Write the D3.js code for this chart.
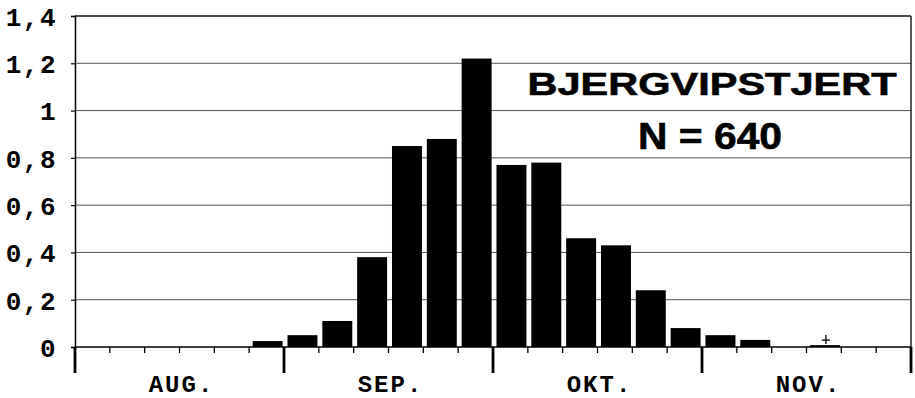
<!DOCTYPE html>
<html>
<head>
<meta charset="utf-8">
<script src="https://cdn.jsdelivr.net/npm/d3@7"></script>
<style>
  html, body { margin: 0; padding: 0; background: #fff; }
  svg { display: block; }
</style>
</head>
<body>
<div id="chart"></div>
<script>
// Pentad slots: six per month, August to November
const months = ["AUG.", "SEP.", "OKT.", "NOV."];
const slotsPerMonth = 6;
// Share of birds per pentad (%), one value per slot
const values = [0, 0, 0, 0, 0, 0.025,
                0.05, 0.11, 0.38, 0.85, 0.88, 1.22,
                0.77, 0.78, 0.46, 0.43, 0.24, 0.08,
                0.05, 0.03, 0, 0.008, 0, 0];
// Slots where the species was seen but in a negligible amount
const traceSlots = [21];
const yTicks = [0, 0.2, 0.4, 0.6, 0.8, 1, 1.2, 1.4];
const yTickLabels = ["0", "0,2", "0,4", "0,6", "0,8", "1", "1,2", "1,4"];
const titleLines = ["BJERGVIPSTJERT", "N = 640"];

const W = 915, H = 398;
const plotLeft = 75, plotRight = 911, plotTop = 16, plotBase = 347;
const monoFont = "Liberation Mono, Courier New, monospace";

const svg = d3.select("#chart").append("svg")
  .attr("width", W).attr("height", H);

const slots = d3.range(months.length * slotsPerMonth);
const x = d3.scaleBand().domain(slots).range([plotLeft, plotRight]).padding(0);
const step = x.step();
const y = d3.scaleLinear().domain([0, 1.4]).range([plotBase, plotTop]);

// Gridlines
svg.append("g").selectAll("line")
  .data(yTicks.filter(d => d > 0))
  .join("line")
  .attr("x1", plotLeft).attr("x2", plotRight)
  .attr("y1", d => y(d)).attr("y2", d => y(d))
  .attr("stroke", d => d === 1.4 ? "#111" : "#555")
  .attr("stroke-width", d => d === 1.4 ? 1.3 : 1);

// Bars
svg.append("g").selectAll("rect")
  .data(values.map((v, i) => ({ i, v })).filter(d => d.v > 0))
  .join("rect")
  .attr("x", d => x(d.i) + step * 0.1)
  .attr("width", step * 0.86)
  .attr("y", d => y(d.v))
  .attr("height", d => plotBase - y(d.v))
  .attr("fill", "#000");

// Trace markers: a small cross above the bar
const cross = svg.append("g").selectAll("g")
  .data(traceSlots)
  .join("g")
  .attr("transform", d => `translate(${x(d) + step / 2 + 2},${y(values[d]) - 5})`);
cross.append("line")
  .attr("x1", -4).attr("x2", 4).attr("y1", 0).attr("y2", 0)
  .attr("stroke", "#000").attr("stroke-width", 1.3);
cross.append("line")
  .attr("x1", 0).attr("x2", 0).attr("y1", -5).attr("y2", 4)
  .attr("stroke", "#000").attr("stroke-width", 1.3);

// Baseline and right frame
svg.append("line")
  .attr("x1", plotLeft).attr("x2", plotRight)
  .attr("y1", plotBase).attr("y2", plotBase)
  .attr("stroke", "#000").attr("stroke-width", 1.5);
svg.append("line")
  .attr("x1", plotRight).attr("x2", plotRight)
  .attr("y1", plotTop).attr("y2", plotBase)
  .attr("stroke", "#000").attr("stroke-width", 1.3);

// Y axis
const yAxis = d3.axisLeft(y)
  .tickValues(yTicks)
  .tickSize(4)
  .tickPadding(14)
  .tickFormat((d, i) => yTickLabels[i]);
const gy = svg.append("g").attr("transform", `translate(${plotLeft},0)`).call(yAxis);
gy.select(".domain").attr("stroke", "#000").attr("stroke-width", 1.5);
gy.selectAll(".tick line").attr("stroke", "#000").attr("stroke-width", 1.2);
gy.selectAll(".tick text")
  .attr("font-family", monoFont)
  .attr("font-weight", "bold")
  .attr("font-size", 26)
  .attr("letter-spacing", 1.5)
  .attr("fill", "#000")
  .attr("dy", "0.36em");

// X axis: minor ticks at each pentad, long ticks at month boundaries
const boundaries = slots.concat([slots.length]);
const xPos = i => plotLeft + i * step;
svg.append("g").selectAll("line")
  .data(boundaries)
  .join("line")
  .attr("x1", xPos).attr("x2", xPos)
  .attr("y1", plotBase)
  .attr("y2", d => d % slotsPerMonth === 0 ? 373 : 353)
  .attr("stroke", "#000")
  .attr("stroke-width", d => d % slotsPerMonth === 0 ? 2.8 : 1.3);

// Month labels
svg.append("g").selectAll("text")
  .data(months)
  .join("text")
  .attr("x", (d, i) => xPos(i * slotsPerMonth + slotsPerMonth / 2) + 2)
  .attr("y", 392)
  .attr("text-anchor", "middle")
  .attr("font-family", monoFont)
  .attr("font-weight", "bold")
  .attr("font-size", 24)
  .attr("letter-spacing", 2)
  .attr("fill", "#000")
  .text(d => d);

// Title block
svg.append("text")
  .attr("x", 712).attr("y", 95)
  .attr("text-anchor", "middle")
  .attr("font-family", "Liberation Sans, Arial, sans-serif")
  .attr("font-weight", "bold")
  .attr("font-size", 32)
  .attr("textLength", 369)
  .attr("lengthAdjust", "spacingAndGlyphs")
  .attr("fill", "#000")
  .attr("stroke", "#000")
  .attr("stroke-width", 0.6)
  .text(titleLines[0]);
svg.append("text")
  .attr("x", 710).attr("y", 149)
  .attr("text-anchor", "middle")
  .attr("font-family", "Liberation Sans, Arial, sans-serif")
  .attr("font-weight", "bold")
  .attr("font-size", 37)
  .attr("textLength", 144)
  .attr("lengthAdjust", "spacingAndGlyphs")
  .attr("fill", "#000")
  .attr("stroke", "#000")
  .attr("stroke-width", 0.6)
  .text(titleLines[1]);
</script>
</body>
</html>
